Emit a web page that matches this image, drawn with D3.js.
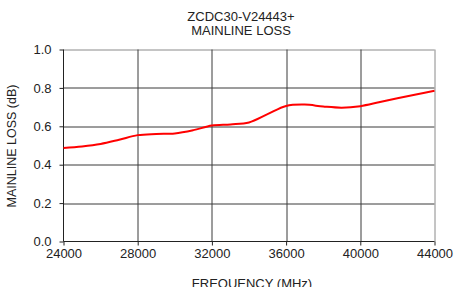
<!DOCTYPE html>
<html>
<head>
<meta charset="UTF-8">
<script src="https://d3js.org/d3.v7.min.js"></script>
<style>
  body { margin: 0; background: #fff; font-family: "Liberation Sans", Arial, sans-serif; }
  svg text { fill: #222; }
</style>
</head>
<body>
<div id="chart"></div>
<script>
const freq = [24000, 25000, 26000, 27000, 28000, 29000, 30000, 31000, 32000, 33000, 34000,
              35000, 36000, 37000, 38000, 39000, 40000, 41000, 42000, 43000, 44000];
const loss = [0.487, 0.495, 0.508, 0.530, 0.554, 0.560, 0.563, 0.580, 0.604, 0.610, 0.620,
              0.663, 0.706, 0.713, 0.703, 0.697, 0.705, 0.725, 0.746, 0.766, 0.785];
const xTicks = [24000, 28000, 32000, 36000, 40000, 44000];
const yTicks = [0, 0.2, 0.4, 0.6, 0.8, 1.0];

const W = 454, H = 287;
const margin = {top: 49.5, right: 19.5, bottom: 45, left: 63.5};
const width = W - margin.left - margin.right,
      height = H - margin.top - margin.bottom - 0.5;

const svg = d3.select("#chart").append("svg")
  .attr("width", W).attr("height", H);

const g = svg.append("g").attr("transform", `translate(${margin.left},${margin.top})`);

const x = d3.scaleLinear().domain([24000, 44000]).range([0, width]);
const y = d3.scaleLinear().domain([0, 1]).range([height, 0]);

// grid
g.selectAll(".hgrid").data(yTicks.slice(1)).enter().append("line")
  .attr("x1", 0).attr("x2", width)
  .attr("y1", d => Math.round(y(d)) + 0.5).attr("y2", d => Math.round(y(d)) + 0.5)
  .attr("stroke", d => d === 1 ? "#8a8a8a" : "#3a3a3a");
g.selectAll(".vgrid").data(xTicks.slice(1)).enter().append("line")
  .attr("y1", 0).attr("y2", height)
  .attr("x1", d => Math.round(x(d)) + 0.5).attr("x2", d => Math.round(x(d)) + 0.5)
  .attr("stroke", d => d === 44000 ? "#8a8a8a" : "#3a3a3a");

// axes
const yAxis = g.append("g")
  .call(d3.axisLeft(y).tickValues(yTicks).tickFormat(d3.format(".1f")).tickSize(4).tickPadding(8));
const xAxis = g.append("g").attr("transform", `translate(0,${height})`)
  .call(d3.axisBottom(x).tickValues(xTicks).tickFormat(d3.format("d")).tickSize(4).tickPadding(3));
[yAxis, xAxis].forEach(a => {
  a.select(".domain").attr("stroke", "#222");
  a.selectAll(".tick line").attr("stroke", "#222");
  a.selectAll("text").attr("font-size", 13).attr("font-family", "Liberation Sans, Arial, sans-serif").attr("fill", "#222");
});
yAxis.select(".domain").attr("d", `M0,0V${height}`);
xAxis.select(".domain").attr("d", `M0,0H${width}`);

// line
const data = freq.map((f, i) => ({f, v: loss[i]}));
g.append("path").datum(data)
  .attr("fill", "none").attr("stroke", "#ff0000").attr("stroke-width", 2)
  .attr("d", d3.line().x(d => x(d.f)).y(d => y(d.v)).curve(d3.curveCatmullRom.alpha(0.5)));

// titles
svg.append("text").attr("x", 241).attr("y", 21).attr("text-anchor", "middle")
  .attr("font-size", 13).text("ZCDC30-V24443+");
svg.append("text").attr("x", 241).attr("y", 35).attr("text-anchor", "middle")
  .attr("font-size", 13).text("MAINLINE LOSS");
svg.append("text").attr("transform", "translate(16,146) rotate(-90)").attr("text-anchor", "middle")
  .attr("font-size", 12.5).text("MAINLINE LOSS (dB)");
svg.append("text").attr("x", 252).attr("y", 288).attr("text-anchor", "middle")
  .attr("font-size", 13).text("FREQUENCY (MHz)");
</script>
</body>
</html>
